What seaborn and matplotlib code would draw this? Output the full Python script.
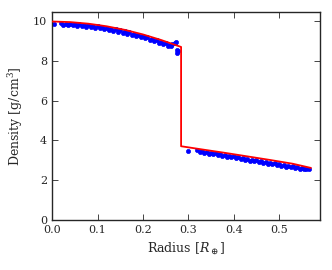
import matplotlib
matplotlib.use('Agg')
import matplotlib.pyplot as plt
import seaborn as sns
import pandas as pd

# model profile (red line)
model_radius = [0.0, 0.04, 0.08, 0.12, 0.16, 0.20, 0.24, 0.284,
                0.284, 0.33, 0.38, 0.43, 0.48, 0.53, 0.57]
model_density = [9.98, 9.95, 9.87, 9.74, 9.56, 9.33, 9.05, 8.70,
                 3.71, 3.55, 3.38, 3.20, 3.02, 2.83, 2.62]

# sampled points (blue), two staggered rows per layer
core_radius_a = [0.020, 0.030, 0.040, 0.050, 0.060, 0.070, 0.080, 0.090, 0.100, 0.110, 0.120, 0.130,
                 0.140, 0.150, 0.160, 0.170, 0.180, 0.190, 0.200, 0.210, 0.220, 0.230, 0.240, 0.250, 0.260]
core_density_a = [9.88, 9.87, 9.86, 9.85, 9.83, 9.81, 9.79, 9.76, 9.73, 9.70, 9.66, 9.62,
                  9.58, 9.53, 9.48, 9.43, 9.37, 9.31, 9.25, 9.18, 9.11, 9.04, 8.96, 8.88, 8.80]
core_radius_b = [0.025, 0.035, 0.045, 0.055, 0.065, 0.075, 0.085, 0.095, 0.105, 0.115, 0.125, 0.135,
                 0.145, 0.155, 0.165, 0.175, 0.185, 0.195, 0.205, 0.215, 0.225, 0.235, 0.245, 0.255, 0.262]
core_density_b = [9.80, 9.79, 9.78, 9.75, 9.73, 9.71, 9.69, 9.66, 9.63, 9.60, 9.55, 9.51,
                  9.47, 9.42, 9.37, 9.31, 9.25, 9.19, 9.13, 9.06, 8.99, 8.92, 8.84, 8.77, 8.74]
mantle_radius_a = [0.320, 0.330, 0.340, 0.350, 0.360, 0.370, 0.380, 0.390, 0.400, 0.410, 0.420, 0.430,
                   0.440, 0.450, 0.460, 0.470, 0.480, 0.490, 0.500, 0.510, 0.520, 0.530, 0.540, 0.550, 0.560]
mantle_density_a = [3.50, 3.46, 3.42, 3.39, 3.35, 3.31, 3.27, 3.23, 3.20, 3.16, 3.12, 3.08,
                    3.04, 3.01, 2.97, 2.93, 2.89, 2.85, 2.82, 2.78, 2.74, 2.70, 2.66, 2.63, 2.59]
mantle_radius_b = [0.325, 0.335, 0.345, 0.355, 0.365, 0.375, 0.385, 0.395, 0.405, 0.415, 0.425, 0.435,
                   0.445, 0.455, 0.465, 0.475, 0.485, 0.495, 0.505, 0.515, 0.525, 0.535, 0.545, 0.555, 0.565]
mantle_density_b = [3.42, 3.38, 3.34, 3.30, 3.26, 3.22, 3.18, 3.15, 3.11, 3.07, 3.03, 2.99,
                    2.96, 2.92, 2.88, 2.84, 2.80, 2.77, 2.73, 2.69, 2.66, 2.62, 2.59, 2.57, 2.56]
extra_radius = [0.004, 0.265, 0.270, 0.272, 0.276, 0.276, 0.277, 0.300]
extra_density = [9.85, 8.86, 8.90, 8.93, 8.55, 8.42, 8.48, 3.48]

sns.set_style('ticks')
plt.rcParams['font.family'] = ['DejaVu Serif']
plt.rcParams['mathtext.fontset'] = 'dejavuserif'

pts = pd.DataFrame({
    'Radius': core_radius_a + core_radius_b + mantle_radius_a + mantle_radius_b + extra_radius,
    'Density': core_density_a + core_density_b + mantle_density_a + mantle_density_b + extra_density,
})
model = pd.DataFrame({'Radius': model_radius, 'Density': model_density})

fig = plt.figure(figsize=(3.32, 2.70), dpi=100)
ax = fig.add_axes([0.157, 0.185, 0.807, 0.770])

sns.scatterplot(data=pts, x='Radius', y='Density', color='blue', edgecolor='blue',
                s=9, linewidth=0.5, ax=ax, zorder=2)
sns.lineplot(data=model, x='Radius', y='Density', sort=False, estimator=None,
             color='red', linewidth=1.3, ax=ax, zorder=3)

ax.set_xlim(0, 0.59)
ax.set_ylim(0, 10.45)
ax.set_xticks([0.0, 0.1, 0.2, 0.3, 0.4, 0.5])
ax.set_yticks([0, 2, 4, 6, 8, 10])
ax.tick_params(direction='in', top=True, right=True, length=4, width=0.6, labelsize=8)
for s in ax.spines.values():
    s.set_linewidth(1.0)
ax.set_xlabel(r'Radius [$R_\oplus$]', fontsize=9)
ax.set_ylabel(r'Density [g/cm$^3$]', fontsize=9, labelpad=6)

fig.savefig('out.png', dpi=100)
